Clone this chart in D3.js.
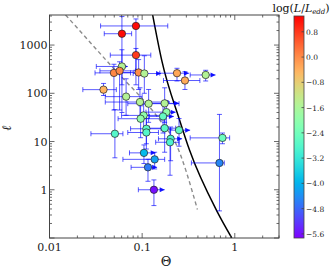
<!DOCTYPE html>
<html><head><meta charset="utf-8">
<script src="https://cdn.jsdelivr.net/npm/d3@7"></script>
<style>body{margin:0;background:#fff}svg{display:block}</style>
</head><body>
<svg id="c" width="332" height="272"></svg>
<script>
// ---- data ----
const theta   = [0.0857,0.0605,0.0857,0.0605,0.0496,0.0571,0.0917,0.1056,0.2377,0.485,0.2897,0.0383,0.0671,0.0947,0.1175,0.175,0.1827,0.1038,0.0963,0.168,0.111,0.111,0.175,0.25,0.203,0.200,0.736,0.0508,0.1046,0.1365,0.1156,0.134,0.683];
const ell     = [2490,1718,619,360,265,292,270,257,261,240,184,119,85.3,65.9,60.9,61.9,40.7,34.8,29.7,33.2,18.4,15.4,18.9,17.2,11.4,9.66,11.9,14.5,5.82,4.27,2.92,1.0,3.6];
const logL    = [1.2,1.2,0.8,-1.5,0.05,0.05,0.0,-1.5,-0.3,-1.5,-0.35,-0.45,-1.5,-1.5,-1.5,-1.5,-2.0,-2.0,-2.0,-2.6,-2.7,-2.8,-2.7,-2.6,-2.9,-2.9,-2.5,-2.8,-3.9,-4.2,-4.6,-5.6,-4.5];
const thetaLo = [0.0356,0.039,0.0453,0.032,0.031,0.035,0.057,0.080,0.155,0.33,0.17,0.0229,0.040,0.040,0.070,0.120,0.110,0.060,0.055,0.120,0.075,0.070,0.120,0.200,0.150,0.140,0.33,0.028,0.073,0.062,0.076,0.091,0.34];
const thetaHi = [0.189,0.077,0.124,0.070,0.075,0.085,0.113,0.160,0.320,0.620,0.420,0.0526,0.100,0.200,0.250,0.250,0.230,0.180,0.160,0.220,0.160,0.150,0.230,0.330,0.270,0.250,0.88,0.062,0.140,0.175,0.145,0.175,0.77];
const ellLo   = [150,40,300,150,45,45,120,100,180,180,120,90,35,30,25,25,20,15,12,15,9,7,6,8,4,2,9,4.6,3.5,2.7,1.5,0.47,0.365];
const ellHi   = [3480,3900,850,800,400,450,500,600,330,300,280,160,200,130,120,130,70,60,55,60,35,30,40,30,20,18,15,45.8,8.5,6.0,4.3,1.6,36.5];
const limit   = [0,0,0,1,0,0,1,1,1,1,0,0,0,1,0,1,1,0,0,1,0,0,0,1,1,0,0,0,1,0,1,1,0];
// pair-equilibrium (solid) and dashed boundary lines
const pairTheta = [0.1298,0.1625,0.2543,0.326,0.639,0.928];
const pairEll   = [4217,487,27.4,6.49,0.365,0.1];
const dashTheta = [0.0149,0.0456,0.161,0.23,0.395];
const dashEll   = [4217,383,25.3,9.2,0.39];
// axes
const xTicks = [0.01,0.1,1];
const xTickLabels = ["0.01","0.1","1"];
const yTicks = [1,10,100,1000];
const yTickLabels = ["1","10","100","1000"];
const cbTicks = [0.8,0.0,-0.8,-1.6,-2.4,-3.2,-4.0,-4.8,-5.6];
const cbTickLabels = ["0.8","0.0","\u22120.8","\u22121.6","\u22122.4","\u22123.2","\u22124.0","\u22124.8","\u22125.6"];
const cbDomain = [-5.73,1.3];

// ---- drawing ----
const svg = d3.select("#c");
const L=49.5,R=279,T=15,B=238;
const x = d3.scaleLog().domain([0.01,3]).range([L,R]);
const y = d3.scaleLog().domain([0.1,4200]).range([B,T]);
function rainbow(t){t=Math.max(0,Math.min(1,t));
  const r=Math.min(1,Math.abs(2*t-0.5)), g=Math.sin(Math.PI*t), b=Math.cos(Math.PI*t/2);
  return d3.rgb(r*255,g*255,b*255).toString();}
const cnorm = d3.scaleLinear().domain(cbDomain).range([0,1]);
const color = v=>rainbow(cnorm(v));

svg.append("defs").append("clipPath").attr("id","clip")
  .append("rect").attr("x",L).attr("y",T).attr("width",R-L).attr("height",B-T);

const g = svg.append("g").attr("clip-path","url(#clip)");
const sm = d3.line().curve(d3.curveMonotoneX).x(d=>x(d[0])).y(d=>y(d[1]));
g.append("path").datum(dashTheta.map((t,i)=>[t,dashEll[i]]))
  .attr("d",sm).attr("fill","none").attr("stroke","#8c8c8c").attr("stroke-width",1.4).attr("stroke-dasharray","4,3");
g.append("path").datum(pairTheta.map((t,i)=>[t,pairEll[i]]))
  .attr("d",sm).attr("fill","none").attr("stroke","#000").attr("stroke-width",1.5);

// error bars
const eb = g.append("g").attr("stroke","#0000ff").attr("stroke-opacity",0.65).attr("stroke-width",1).attr("fill","none");
const idx = d3.range(theta.length);
idx.forEach(i=>{
  const cx=x(theta[i]), cy=y(ell[i]);
  const x0=x(thetaLo[i]), x1=x(thetaHi[i]), y0=y(ellLo[i]), y1=y(ellHi[i]);
  eb.append("line").attr("x1",x0).attr("x2",x1).attr("y1",cy).attr("y2",cy);
  eb.append("line").attr("x1",cx).attr("x2",cx).attr("y1",y0).attr("y2",y1);
  eb.append("line").attr("x1",x0).attr("x2",x0).attr("y1",cy-2.5).attr("y2",cy+2.5);
  eb.append("line").attr("x1",cx-2.5).attr("x2",cx+2.5).attr("y1",y0).attr("y2",y0);
  eb.append("line").attr("x1",cx-2.5).attr("x2",cx+2.5).attr("y1",y1).attr("y2",y1);
  if(limit[i]){
    g.append("path").attr("d",`M${x1},${cy}L${x1-5},${cy-2.5}L${x1-5},${cy+2.5}Z`)
      .attr("fill","#0000ff").attr("fill-opacity",0.9);
  } else {
    eb.append("line").attr("x1",x1).attr("x2",x1).attr("y1",cy-2.5).attr("y2",cy+2.5);
  }
});
g.append("g").selectAll("circle").data(idx).join("circle")
  .attr("cx",i=>x(theta[i])).attr("cy",i=>y(ell[i])).attr("r",3.7)
  .attr("fill",i=>color(logL[i])).attr("stroke","#222").attr("stroke-width",0.7);

// frame & ticks
const fc="#444";
svg.append("rect").attr("x",L).attr("y",T).attr("width",R-L).attr("height",B-T)
  .attr("fill","none").attr("stroke",fc).attr("stroke-width",1);
const tk = svg.append("g").attr("stroke",fc).attr("stroke-width",0.8);
function minorLog(dom){const out=[];for(let e=-3;e<5;e++){for(let m=1;m<10;m++){const v=m*Math.pow(10,e);if(v>=dom[0]*0.999&&v<=dom[1]*1.001)out.push({v,major:m===1});}}return out;}
minorLog(x.domain()).forEach(t=>{const px=x(t.v),len=t.major?5:2.5;
  tk.append("line").attr("x1",px).attr("x2",px).attr("y1",B).attr("y2",B-len);
  tk.append("line").attr("x1",px).attr("x2",px).attr("y1",T).attr("y2",T+len);});
minorLog(y.domain()).forEach(t=>{const py=y(t.v),len=t.major?5:2.5;
  tk.append("line").attr("y1",py).attr("y2",py).attr("x1",L).attr("x2",L+len);
  tk.append("line").attr("y1",py).attr("y2",py).attr("x1",R).attr("x2",R-len);});
const font="DejaVu Serif";
svg.append("g").selectAll("text").data(xTicks).join("text")
  .attr("x",d=>x(d)).attr("y",251).attr("text-anchor","middle")
  .attr("font-family",font).attr("font-size",11).attr("fill","#222").text((d,i)=>xTickLabels[i]);
svg.append("g").selectAll("text").data(yTicks).join("text")
  .attr("x",L-2).attr("y",d=>y(d)+4).attr("text-anchor","end")
  .attr("font-family",font).attr("font-size",11).attr("fill","#222").text((d,i)=>yTickLabels[i]);
svg.append("text").attr("x",166).attr("y",266).attr("text-anchor","middle")
  .attr("font-family",font).attr("font-size",13).attr("fill","#222").text("\u0398");
svg.append("text").attr("transform","translate(11,128) rotate(-90)").attr("text-anchor","middle")
  .attr("font-family",font).attr("font-style","italic").attr("font-size",13).attr("fill","#222").text("\u2113");

// colorbar
const cbL=294,cbR=304,cbT=16,cbB=238;
const cy = d3.scaleLinear().domain(cbDomain).range([cbB,cbT]);
const grad = svg.select("defs").append("linearGradient").attr("id","cbg")
  .attr("x1",0).attr("y1",1).attr("x2",0).attr("y2",0);
d3.range(0,1.0001,0.02).forEach(t=>grad.append("stop").attr("offset",t).attr("stop-color",rainbow(t)));
svg.append("rect").attr("x",cbL).attr("y",cbT).attr("width",cbR-cbL).attr("height",cbB-cbT)
  .attr("fill","url(#cbg)").attr("stroke",fc).attr("stroke-width",0.8);
svg.append("g").selectAll("line").data(cbTicks).join("line")
  .attr("x1",cbR-2.5).attr("x2",cbR).attr("y1",d=>cy(d)).attr("y2",d=>cy(d))
  .attr("stroke",fc).attr("stroke-width",0.8);
svg.append("g").selectAll("text").data(cbTicks).join("text")
  .attr("x",cbR+2).attr("y",d=>cy(d)+3).attr("font-family",font).attr("font-size",7.5).attr("fill","#222")
  .text((d,i)=>cbTickLabels[i]);
const lab = svg.append("text").attr("x",301).attr("y",12).attr("text-anchor","middle")
  .attr("font-family",font).attr("font-size",11).attr("fill","#111");
lab.append("tspan").text("log(");
lab.append("tspan").attr("font-style","italic").text("L");
lab.append("tspan").text("/");
lab.append("tspan").attr("font-style","italic").text("L");
lab.append("tspan").attr("font-style","italic").attr("font-size",7).attr("dy",2).text("edd");
lab.append("tspan").attr("dy",-2).text(")");
</script>
</body></html>
